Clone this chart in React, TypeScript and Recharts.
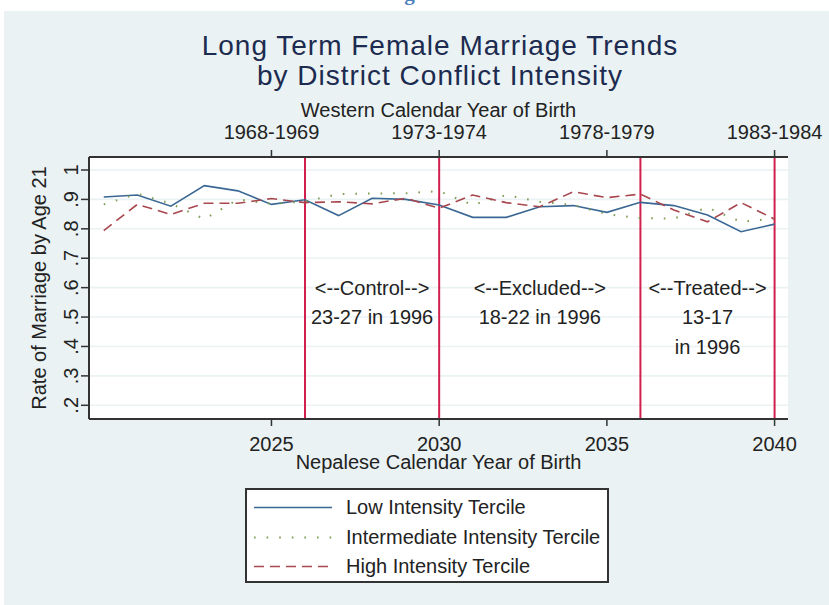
import { LineChart, Line, XAxis, YAxis, CartesianGrid, ReferenceLine, ReferenceDot, Label } from 'recharts';

const years = [2020, 2021, 2022, 2023, 2024, 2025, 2026, 2027, 2028, 2029, 2030, 2031, 2032, 2033, 2034, 2035, 2036, 2037, 2038, 2039, 2040];
const lowIntensity = [0.908, 0.915, 0.877, 0.947, 0.929, 0.883, 0.899, 0.845, 0.904, 0.9, 0.881, 0.839, 0.839, 0.875, 0.879, 0.856, 0.89, 0.879, 0.847, 0.79, 0.816];
const midIntensity = [0.883, 0.919, 0.886, 0.833, 0.9, 0.885, 0.893, 0.918, 0.92, 0.921, 0.928, 0.881, 0.915, 0.892, 0.881, 0.85, 0.836, 0.835, 0.872, 0.824, 0.835];
const highIntensity = [0.794, 0.883, 0.849, 0.887, 0.887, 0.903, 0.889, 0.892, 0.885, 0.904, 0.87, 0.915, 0.889, 0.875, 0.926, 0.906, 0.918, 0.864, 0.824, 0.889, 0.833];

const nepaliTicks = [2025, 2030, 2035, 2040];
const westernTicks = ['1968-1969', '1973-1974', '1978-1979', '1983-1984'];
const yTicks = [0.2, 0.3, 0.4, 0.5, 0.6, 0.7, 0.8, 0.9, 1];
const cutoffYears = [2026, 2030, 2036, 2040];
const notes = [
  { x: 2028, y: 0.6, text: '<--Control-->' },
  { x: 2028, y: 0.5, text: '23-27 in 1996' },
  { x: 2033, y: 0.6, text: '<--Excluded-->' },
  { x: 2033, y: 0.5, text: '18-22 in 1996' },
  { x: 2038, y: 0.6, text: '<--Treated-->' },
  { x: 2038, y: 0.5, text: '13-17' },
  { x: 2038, y: 0.4, text: 'in 1996' },
];

const series = [
  { key: 'low', name: 'Low Intensity Tercile', color: '#3a6794', dash: undefined, width: 1.6 },
  { key: 'mid', name: 'Intermediate Intensity Tercile', color: '#7f9d55', dash: '1.6 11', width: 2 },
  { key: 'high', name: 'High Intensity Tercile', color: '#a8474e', dash: '10 6', width: 1.6 },
];

const data = years.map((year, i) => ({
  year,
  low: lowIntensity[i],
  mid: midIntensity[i],
  high: highIntensity[i],
}));

const FONT = '"Liberation Sans", Arial, sans-serif';
const TEXT = '#222';

const yFmt = (v: number) => (v >= 1 ? '1' : '.' + Math.round(v * 10));

const YTick = (props: any) => {
  const { x, y, payload } = props;
  return (
    <text x={x} y={y} transform={`rotate(-90 ${x} ${y})`} textAnchor="middle" fontSize={20} fill={TEXT} fontFamily={FONT}>
      {yFmt(payload.value)}
    </text>
  );
};

const YTitle = (props: any) => {
  const { x, y, height } = props.viewBox;
  const tx = x + 16.5;
  const ty = y + height / 2;
  return (
    <text x={tx} y={ty} transform={`rotate(-90 ${tx} ${ty})`} textAnchor="middle" fontSize={20} fill={TEXT} fontFamily={FONT}>
      Rate of Marriage by Age 21
    </text>
  );
};

const XTitle = ({ text, baseline }: { text: string; baseline: (vb: any) => number }) => (props: any) => {
  const vb = props.viewBox;
  return (
    <text x={vb.x + vb.width / 2} y={baseline(vb)} textAnchor="middle" fontSize={20} fill={TEXT} fontFamily={FONT}>
      {text}
    </text>
  );
};

export default function App() {
  return (
    <div style={{ position: 'absolute', left: 0, top: 0, width: 829, height: 605, background: '#fff', overflow: 'hidden', fontFamily: FONT }}>
      <div style={{ position: 'absolute', left: 4, top: 11, width: 825, height: 594, background: '#eaf2f3' }} />
      <div style={{ position: 'absolute', left: 0, width: 846, top: -19, textAlign: 'center', fontFamily: '"Liberation Serif", serif', fontWeight: 'bold', fontSize: 21, color: '#4f81bd', lineHeight: '24px' }}>
        Figure 6
      </div>
      <div style={{ position: 'absolute', left: 0, width: 880, top: 31, textAlign: 'center', fontSize: 28, letterSpacing: 1, color: '#1c2b4f', lineHeight: '30px' }}>
        Long Term Female Marriage Trends
        <br />
        by District Conflict Intensity
      </div>

      <div style={{ position: 'absolute', left: 0, top: 0 }}>
        <LineChart width={829} height={605} data={data} margin={{ top: 97, left: 29, right: 41, bottom: 126 }}>
          <CartesianGrid vertical={false} stroke="#eaf2f3" strokeWidth={1.6} fill="#fff" />
          <XAxis
            xAxisId="bottom"
            dataKey="year"
            type="number"
            domain={[2019.56, 2040.4]}
            ticks={nepaliTicks}
            height={60}
            tickSize={7}
            tickMargin={11}
            axisLine={{ stroke: '#333', strokeWidth: 2 }}
            tickLine={{ stroke: '#333', strokeWidth: 1.5 }}
            tick={{ fontSize: 20, fill: TEXT, fontFamily: FONT }}
            allowDataOverflow
          >
            <Label content={XTitle({ text: 'Nepalese Calendar Year of Birth', baseline: (vb) => vb.y + vb.height - 10 })} />
          </XAxis>
          <XAxis
            xAxisId="top"
            orientation="top"
            dataKey="year"
            type="number"
            domain={[2019.56, 2040.4]}
            ticks={nepaliTicks}
            tickFormatter={(v: number) => westernTicks[nepaliTicks.indexOf(v)]}
            height={60}
            tickSize={7}
            tickMargin={11}
            axisLine={{ stroke: '#333', strokeWidth: 2 }}
            tickLine={{ stroke: '#333', strokeWidth: 1.5 }}
            tick={{ fontSize: 20, fill: TEXT, fontFamily: FONT }}
            allowDataOverflow
          >
            <Label content={XTitle({ text: 'Western Calendar Year of Birth', baseline: (vb) => vb.y + 20 })} />
          </XAxis>
          <YAxis
            type="number"
            domain={[0.1534, 1.0442]}
            ticks={yTicks}
            width={60}
            tickSize={8}
            tickMargin={3}
            axisLine={{ stroke: '#333', strokeWidth: 2 }}
            tickLine={{ stroke: '#333', strokeWidth: 1.5 }}
            tick={<YTick />}
            allowDataOverflow
          >
            <Label content={<YTitle />} />
          </YAxis>

          {cutoffYears.map((x) => (
            <ReferenceLine key={x} xAxisId="bottom" x={x} stroke="#d11f4e" strokeWidth={2} />
          ))}

          {series.map((s) => (
            <Line
              key={s.key}
              xAxisId="bottom"
              type="linear"
              dataKey={s.key}
              name={s.name}
              stroke={s.color}
              strokeWidth={s.width}
              strokeDasharray={s.dash}
              dot={false}
              activeDot={false}
              isAnimationActive={false}
            />
          ))}

          {notes.map((n) => (
            <ReferenceDot
              key={n.text}
              xAxisId="bottom"
              x={n.x}
              y={n.y}
              r={0}
              fill="none"
              stroke="none"
              label={{ value: n.text, position: 'center', fontSize: 20, fill: TEXT, fontFamily: FONT }}
            />
          ))}
        </LineChart>
      </div>

      <div style={{ position: 'absolute', left: 245, top: 488, width: 360, height: 91, background: '#fff', border: '2px solid #333' }}>
        {series.map((s, i) => (
          <div key={s.key} style={{ position: 'absolute', left: 0, top: 3 + i * 29.5, height: 29, width: 360, display: 'flex', alignItems: 'center', whiteSpace: 'nowrap' }}>
            <svg width={99} height={29} style={{ display: 'block', flexShrink: 0 }}>
              <line x1={7} x2={85} y1={14.5} y2={14.5} stroke={s.color} strokeWidth={s.width} strokeDasharray={s.dash} />
            </svg>
            <span style={{ fontSize: 20, color: TEXT, lineHeight: '29px', whiteSpace: 'nowrap' }}>{s.name}</span>
          </div>
        ))}
      </div>
    </div>
  );
}
